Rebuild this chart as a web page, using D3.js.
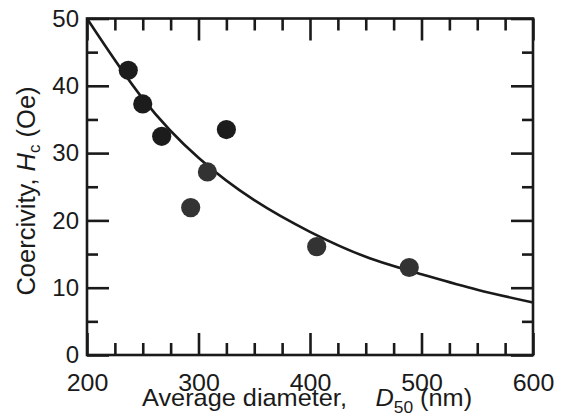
<!DOCTYPE html>
<html>
<head>
<meta charset="utf-8">
<script src="https://cdn.jsdelivr.net/npm/d3@7"></script>
<style>
  html, body { margin: 0; padding: 0; background: #fff; }
  svg { display: block; font-family: "Liberation Sans", Arial, Helvetica, sans-serif; }
</style>
</head>
<body>
<svg id="chart" width="565" height="420"></svg>
<script>
// Measured samples: average particle diameter D50 (nm) and coercivity Hc (Oe)
const diameters  = [237, 250, 267, 293, 308, 325, 406, 489];
const coercivity = [42.3, 37.3, 32.5, 21.9, 27.2, 33.5, 16.1, 13.0];
// darker marks vs. slightly lighter grey marks
const pointShade = ["dark", "dark", "dark", "grey", "grey", "dark", "grey", "grey"];

// Fitted trend curve, sampled along the diameter axis
const fitDiameter   = [200, 250, 300, 350, 400, 450, 500, 550, 600];
const fitCoercivity = [50, 38.1, 29.3, 23.0, 18.3, 14.6, 12.0, 9.7, 7.8];

// Axis ticks
const xMajor = [200, 300, 400, 500, 600];
const xMinor = [225, 250, 275, 325, 350, 375, 425, 450, 475, 525, 550, 575];
const yMajor = [0, 10, 20, 30, 40, 50];
const yMinor = [5, 15, 25, 35, 45];

const margin = { left: 87, right: 32, top: 18.5, bottom: 65 };
const W = 565, H = 420;
const svg = d3.select("#chart");

const x = d3.scaleLinear().domain([200, 600]).range([margin.left, W - margin.right]);
const y = d3.scaleLinear().domain([0, 50]).range([H - margin.bottom, margin.top]);

const ink = "#1a1a1a";
const lw = 2.6;

function styleAxis(g) {
  g.select(".domain").remove();
  g.selectAll(".tick line").attr("stroke", ink).attr("stroke-width", lw);
  g.selectAll(".tick text").attr("fill", ink).attr("font-size", 24);
}

// bottom axis: labelled major ticks pointing inward plus minor ticks
svg.append("g").attr("transform", `translate(0,${y(0)})`)
  .call(d3.axisBottom(x).tickValues(xMajor).tickSize(-22).tickPadding(19).tickFormat(d3.format("d")))
  .call(styleAxis)
  .call(g => g.selectAll(".tick text").attr("transform", "scale(1.04,1)"));
svg.append("g").attr("transform", `translate(0,${y(0)})`)
  .call(d3.axisBottom(x).tickValues(xMinor).tickSize(-12).tickFormat(""))
  .call(styleAxis);
// top axis
svg.append("g").attr("transform", `translate(0,${y(50)})`)
  .call(d3.axisTop(x).tickValues(xMajor).tickSize(-22).tickFormat(""))
  .call(styleAxis);
svg.append("g").attr("transform", `translate(0,${y(50)})`)
  .call(d3.axisTop(x).tickValues(xMinor).tickSize(-12).tickFormat(""))
  .call(styleAxis);
// left axis
svg.append("g").attr("transform", `translate(${x(200)},0)`)
  .call(d3.axisLeft(y).tickValues(yMajor).tickSize(-22).tickPadding(8).tickFormat(d3.format("d")))
  .call(styleAxis);
svg.append("g").attr("transform", `translate(${x(200)},0)`)
  .call(d3.axisLeft(y).tickValues(yMinor).tickSize(-11).tickFormat(""))
  .call(styleAxis);
// right axis
svg.append("g").attr("transform", `translate(${x(600)},0)`)
  .call(d3.axisRight(y).tickValues(yMajor).tickSize(-22).tickFormat(""))
  .call(styleAxis);
svg.append("g").attr("transform", `translate(${x(600)},0)`)
  .call(d3.axisRight(y).tickValues(yMinor).tickSize(-11).tickFormat(""))
  .call(styleAxis);

// frame
svg.append("rect")
  .attr("x", x(200)).attr("y", y(50))
  .attr("width", x(600) - x(200)).attr("height", y(0) - y(50))
  .attr("fill", "none").attr("stroke", ink).attr("stroke-width", lw);

// fitted curve
const fitData = fitDiameter.map((d, i) => [d, fitCoercivity[i]]);
svg.append("path")
  .datum(fitData)
  .attr("fill", "none")
  .attr("stroke", ink)
  .attr("stroke-width", 2.6)
  .attr("d", d3.line().x(d => x(d[0])).y(d => y(d[1])).curve(d3.curveNatural));

// data points
svg.append("g").selectAll("circle")
  .data(diameters.map((d, i) => ({ d, h: coercivity[i], s: pointShade[i] })))
  .join("circle")
  .attr("cx", p => x(p.d))
  .attr("cy", p => y(p.h))
  .attr("r", 9.6)
  .attr("fill", p => p.s === "dark" ? "#1c1c1c" : "#333333");

// x axis title
const xt = svg.append("text")
  .attr("transform", "translate(142,406) scale(1.055,1)")
  .attr("text-anchor", "start")
  .attr("font-size", 24)
  .attr("fill", ink);
xt.append("tspan").text("Average diameter,");
xt.append("tspan").attr("dx", 27).attr("font-style", "italic").text("D");
xt.append("tspan").attr("dy", 7).attr("font-size", 16.5).text("50");
xt.append("tspan").attr("dy", -7).text(" (nm)");

// y axis title
const yt = svg.append("text")
  .attr("transform", `translate(35,191) rotate(-90)`)
  .attr("text-anchor", "middle")
  .attr("font-size", 25.5)
  .attr("fill", ink);
yt.append("tspan").text("Coercivity, ");
yt.append("tspan").attr("font-style", "italic").text("H");
yt.append("tspan").attr("dy", 5).attr("font-size", 17).text("c");
yt.append("tspan").attr("dy", -5).text(" (Oe)");
</script>
</body>
</html>
